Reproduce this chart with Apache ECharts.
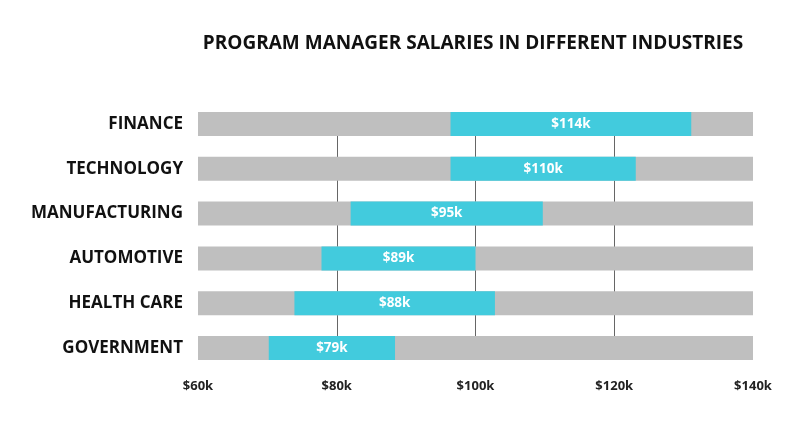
<!DOCTYPE html>
<html>
<head>
<meta charset="utf-8">
<script src="https://cdn.jsdelivr.net/npm/echarts@6/dist/echarts.min.js"></script>
<style>html,body{margin:0;padding:0;background:#fff}#c{width:800px;height:435px}</style>
</head>
<body>
<div id="c"></div>
<script>
const industries = ['FINANCE', 'TECHNOLOGY', 'MANUFACTURING', 'AUTOMOTIVE', 'HEALTH CARE', 'GOVERNMENT'];
const lowValues = [96.4, 96.4, 82.0, 77.8, 73.9, 70.2];
const highValues = [131.1, 123.1, 109.7, 100.0, 102.8, 88.4];
const medianValues = [114, 110, 95, 89, 88, 79];
const axisMin = 60;
const axisMax = 140;
const tickInterval = 20;

const chart = echarts.init(document.getElementById('c'), null, {renderer: 'canvas'});
const FONT = '"Open Sans", "Noto Sans", sans-serif';
chart.setOption({
  animation: false,
  title: {
    text: 'PROGRAM MANAGER SALARIES IN DIFFERENT INDUSTRIES',
    left: 468, top: 29, textAlign: 'center',
    textStyle: {fontFamily: FONT, fontWeight: 'bold', fontSize: 19, color: '#111'}
  },
  grid: [
    {left: 198, right: 47, top: 101.6, bottom: 64.6, containLabel: false},
    {left: 198, right: 47, top: 112, bottom: 75, containLabel: false}
  ],
  xAxis: [
    {
      gridIndex: 0, type: 'value', min: axisMin, max: axisMax, interval: tickInterval,
      axisLine: {show: false}, axisTick: {show: false}, splitLine: {show: false},
      axisLabel: {
        margin: 9, fontFamily: FONT, fontWeight: 'bold', fontSize: 13, color: '#222',
        formatter: v => '$' + v + 'k'
      }
    },
    {
      gridIndex: 1, type: 'value', min: axisMin, max: axisMax, interval: tickInterval,
      axisLine: {show: false}, axisTick: {show: false}, axisLabel: {show: false},
      splitLine: {show: true, showMinLine: false, showMaxLine: false, lineStyle: {color: '#666', width: 1}}
    }
  ],
  yAxis: [
    {
      gridIndex: 0, type: 'category', data: industries, inverse: true,
      axisLine: {show: false}, axisTick: {show: false}, splitLine: {show: false},
      axisLabel: {margin: 15, fontFamily: FONT, fontWeight: 'bold', fontSize: 17, color: '#111'}
    },
    {
      gridIndex: 1, type: 'category', data: industries, inverse: true, show: false
    }
  ],
  series: [
    {
      type: 'bar', xAxisIndex: 0, yAxisIndex: 0, barWidth: 24, barGap: '-100%',
      data: industries.map(() => axisMax),
      itemStyle: {color: '#BFBFBF'}, silent: true, z: 2
    },
    {
      type: 'bar', xAxisIndex: 0, yAxisIndex: 0, barWidth: 24, stack: 'r',
      data: lowValues,
      itemStyle: {color: 'transparent'}, silent: true, z: 3
    },
    {
      type: 'bar', xAxisIndex: 0, yAxisIndex: 0, barWidth: 24, stack: 'r',
      data: highValues.map((h, i) => +(h - lowValues[i]).toFixed(2)),
      itemStyle: {color: '#42CBDD'}, z: 3,
      label: {
        show: true, position: 'inside', color: '#fff',
        fontFamily: FONT, fontWeight: 'bold', fontSize: 13.5,
        formatter: p => '$' + medianValues[p.dataIndex] + 'k'
      }
    }
  ]
});
</script>
</body>
</html>
